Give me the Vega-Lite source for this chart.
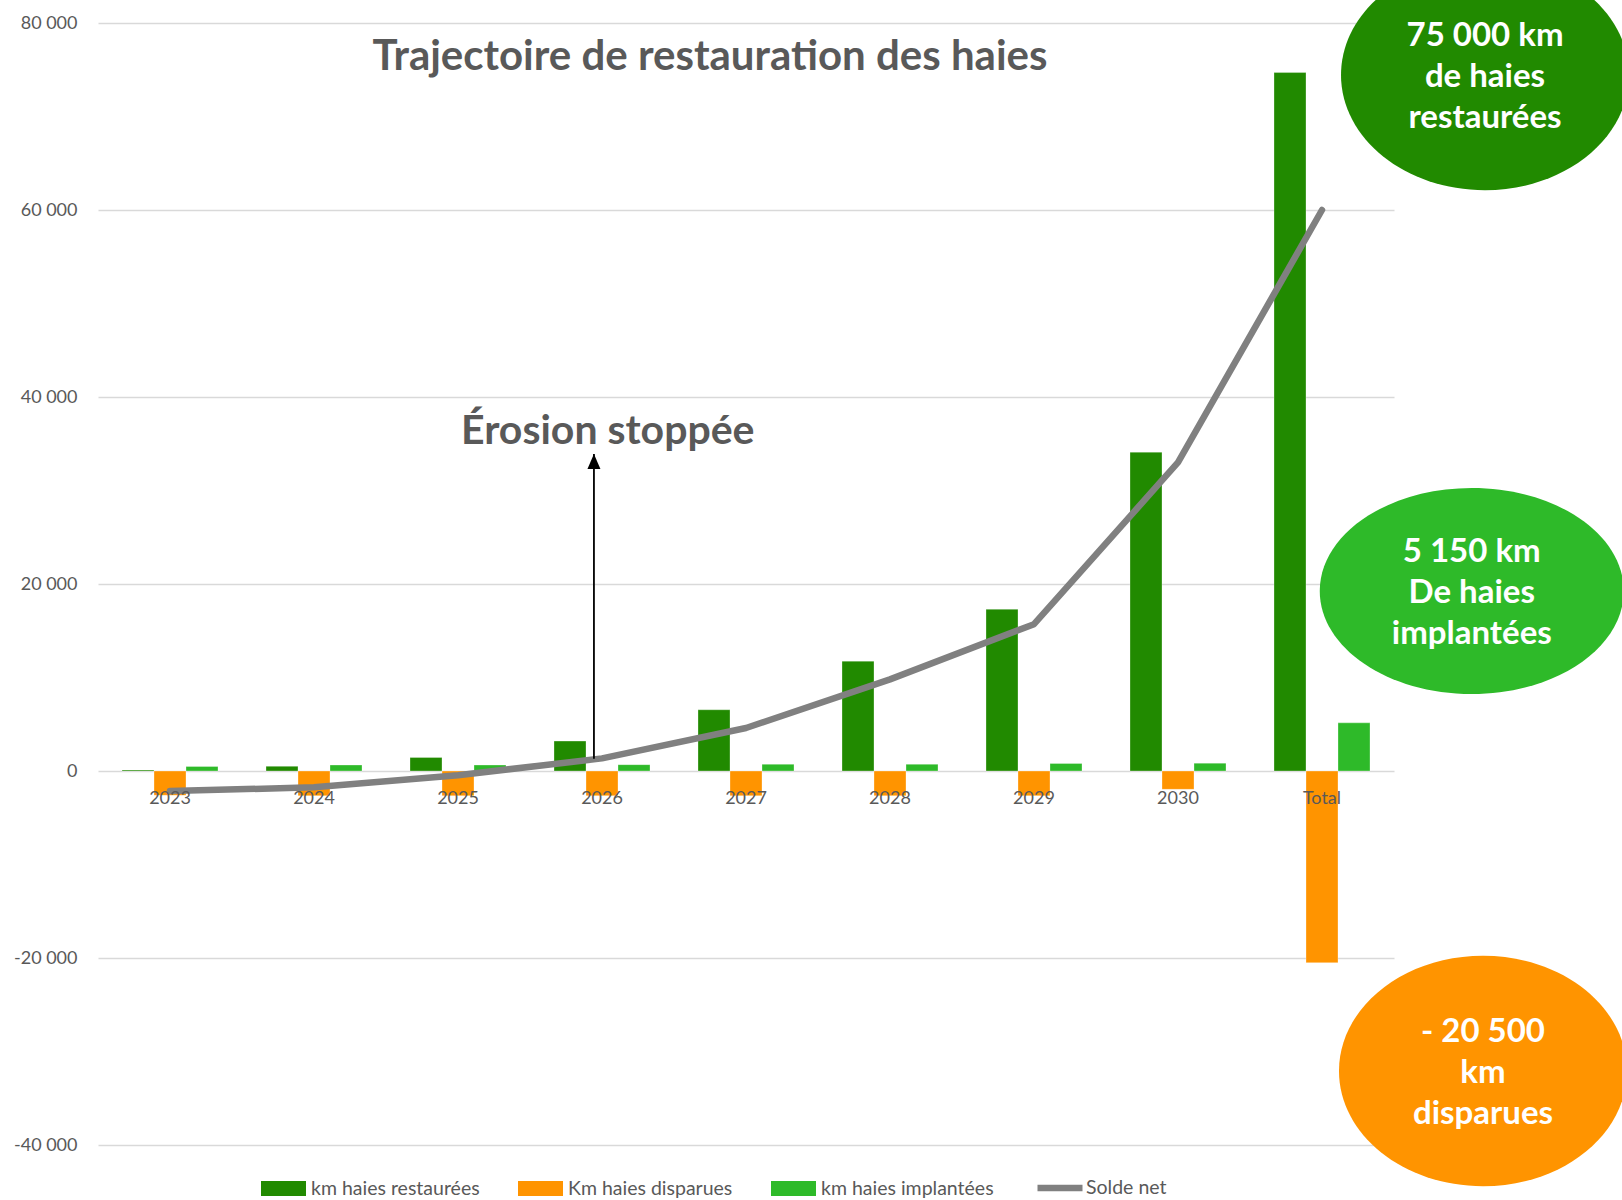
{
  "$schema": "https://vega.github.io/schema/vega-lite/v6.json",
  "width": 1296,
  "height": 1122,
  "autosize": {"type": "none"},
  "padding": {"left": 98, "top": 23, "right": 228, "bottom": 55},
  "background": "white",
  "config": {"view": {"stroke": null}, "font": "Lato"},
  "title": {
    "text": "Trajectoire de restauration des haies",
    "font": "Lato",
    "fontSize": 42,
    "fontWeight": "bold",
    "color": "#595959",
    "anchor": "middle",
    "frame": "group",
    "dx": -36,
    "offset": -119
  },
  "datasets": {
    "barres": [
      {"annee": "2023", "serie": "km haies restaurées", "km": 100},
      {"annee": "2023", "serie": "Km haies disparues", "km": -2600},
      {"annee": "2023", "serie": "km haies implantées", "km": 480},
      {"annee": "2024", "serie": "km haies restaurées", "km": 500},
      {"annee": "2024", "serie": "Km haies disparues", "km": -2650},
      {"annee": "2024", "serie": "km haies implantées", "km": 640},
      {"annee": "2025", "serie": "km haies restaurées", "km": 1450},
      {"annee": "2025", "serie": "Km haies disparues", "km": -2650},
      {"annee": "2025", "serie": "km haies implantées", "km": 640},
      {"annee": "2026", "serie": "km haies restaurées", "km": 3200},
      {"annee": "2026", "serie": "Km haies disparues", "km": -2650},
      {"annee": "2026", "serie": "km haies implantées", "km": 680},
      {"annee": "2027", "serie": "km haies restaurées", "km": 6550},
      {"annee": "2027", "serie": "Km haies disparues", "km": -2650},
      {"annee": "2027", "serie": "km haies implantées", "km": 720},
      {"annee": "2028", "serie": "km haies restaurées", "km": 11750},
      {"annee": "2028", "serie": "Km haies disparues", "km": -2650},
      {"annee": "2028", "serie": "km haies implantées", "km": 720},
      {"annee": "2029", "serie": "km haies restaurées", "km": 17300},
      {"annee": "2029", "serie": "Km haies disparues", "km": -2650},
      {"annee": "2029", "serie": "km haies implantées", "km": 800},
      {"annee": "2030", "serie": "km haies restaurées", "km": 34100},
      {"annee": "2030", "serie": "Km haies disparues", "km": -1960},
      {"annee": "2030", "serie": "km haies implantées", "km": 840},
      {"annee": "Total", "serie": "km haies restaurées", "km": 74700},
      {"annee": "Total", "serie": "Km haies disparues", "km": -20500},
      {"annee": "Total", "serie": "km haies implantées", "km": 5150}
    ],
    "solde": [
      {"annee": "2023", "serie": "Solde net", "km": -2150},
      {"annee": "2024", "serie": "Solde net", "km": -1750},
      {"annee": "2025", "serie": "Solde net", "km": -450},
      {"annee": "2026", "serie": "Solde net", "km": 1350},
      {"annee": "2027", "serie": "Solde net", "km": 4600},
      {"annee": "2028", "serie": "Solde net", "km": 9800},
      {"annee": "2029", "serie": "Solde net", "km": 15700},
      {"annee": "2030", "serie": "Solde net", "km": 33000},
      {"annee": "Total", "serie": "Solde net", "km": 60000}
    ],
    "bulles": [
      {"cle": "restaurees", "serie": "km haies restaurées", "ax": 9.632, "ay": 74440, "texte": "75 000 km\nde haies\nrestaurées"},
      {"cle": "implantees", "serie": "km haies implantées", "ax": 9.54, "ay": 19250, "texte": "5 150 km\nDe haies\nimplantées"},
      {"cle": "disparues", "serie": "Km haies disparues", "ax": 9.618, "ay": -32085, "texte": "- 20 500\nkm\ndisparues"}
    ],
    "fleche": [
      {"ax": 3.444, "ay": 1300, "ay2": 33900, "texte": "Érosion stoppée", "ty": 36300, "tx": 3.54}
    ]
  },
  "layer": [
    {
      "layer": [
        {
          "data": {"name": "barres"},
          "mark": {"type": "bar", "stroke": "white", "strokeWidth": 0.6, "strokeOpacity": 0.5},
          "encoding": {
            "x": {
              "field": "annee", "type": "nominal",
              "sort": ["2023", "2024", "2025", "2026", "2027", "2028", "2029", "2030", "Total"],
              "scale": {"paddingInner": 0.33333, "paddingOuter": 0.16667},
              "axis": {
                "orient": "bottom", "offset": -374, "domain": false, "ticks": false, "grid": false,
                "labelPadding": 18, "labelAngle": 0, "labelFont": "Lato", "labelFontSize": 18,
                "labelColor": "#595959", "title": null, "zindex": 1
              }
            },
            "xOffset": {
              "field": "serie", "type": "nominal",
              "sort": ["km haies restaurées", "Km haies disparues", "km haies implantées"],
              "scale": {"paddingInner": 0, "paddingOuter": 0}
            },
            "y": {
              "field": "km", "type": "quantitative", "title": null,
              "scale": {"domain": [-40000, 80000], "nice": false, "zero": false},
              "axis": {
                "values": [-40000, -20000, 0, 20000, 40000, 60000, 80000],
                "labelExpr": "replace(replace(format(datum.value, ','), ',', ' '), '\u2212', '-')",
                "grid": true, "gridColor": "#d9d9d9", "gridWidth": 1.3,
                "domain": false, "ticks": false, "labelPadding": 21,
                "labelFont": "Lato", "labelFontSize": 18, "labelColor": "#595959", "title": null
              }
            },
            "fill": {
              "field": "serie", "type": "nominal",
              "scale": {
                "domain": ["km haies restaurées", "Km haies disparues", "km haies implantées"],
                "range": ["#218A00", "#FF9400", "#2EBA29"]
              },
              "legend": {
                "orient": "none", "legendX": 163, "legendY": 1143, "direction": "horizontal",
                "title": null, "padding": 0,
                "labelFont": "Lato", "labelFontSize": 19.5, "labelColor": "#595959",
                "labelLimit": 400, "labelOffset": 5, "columnPadding": 38,
                "symbolSize": 2025, "symbolType": "M-1,-0.333H1V0.333H-1Z", "symbolStrokeWidth": 0,
                "symbolOpacity": 1
              }
            }
          }
        },
        {
          "data": {"name": "solde"},
          "mark": {"type": "line", "strokeWidth": 6.5, "strokeCap": "round", "strokeJoin": "round"},
          "encoding": {
            "x": {"field": "annee", "type": "nominal", "sort": ["2023", "2024", "2025", "2026", "2027", "2028", "2029", "2030", "Total"]},
            "y": {"field": "km", "type": "quantitative", "title": null},
            "stroke": {
              "field": "serie", "type": "nominal",
              "scale": {"domain": ["Solde net"], "range": ["#808080"]},
              "legend": {
                "orient": "none", "legendX": 936, "legendY": 1139, "direction": "horizontal",
                "title": null, "padding": 0,
                "labelFont": "Lato", "labelFontSize": 19.5, "labelColor": "#595959",
                "labelLimit": 400, "labelOffset": 0,
                "symbolSize": 2025, "symbolType": "stroke", "symbolStrokeWidth": 6.5,
                "symbolOpacity": 1
              }
            }
          }
        }
      ]
    },
    {
      "layer": [
        {
          "data": {"name": "fleche"},
          "mark": {"type": "rule", "color": "#000000", "strokeWidth": 1.8, "clip": false},
          "encoding": {
            "x": {"field": "ax", "type": "quantitative", "scale": {"domain": [0, 9], "nice": false, "zero": false}, "axis": null},
            "y": {"field": "ay", "type": "quantitative", "title": null},
            "y2": {"field": "ay2"}
          }
        },
        {
          "data": {"name": "fleche"},
          "mark": {"type": "point", "shape": "M0,0L0.65,1.5L-0.65,1.5Z", "size": 400, "filled": true, "color": "#000000", "opacity": 1, "strokeWidth": 0, "clip": false},
          "encoding": {
            "x": {"field": "ax", "type": "quantitative"},
            "y": {"field": "ay2", "type": "quantitative", "title": null}
          }
        },
        {
          "data": {"name": "fleche"},
          "mark": {"type": "text", "font": "Lato", "fontSize": 41, "fontWeight": "bold", "color": "#595959", "align": "center", "baseline": "middle", "clip": false},
          "encoding": {
            "x": {"field": "tx", "type": "quantitative"},
            "y": {"field": "ty", "type": "quantitative", "title": null},
            "text": {"field": "texte"}
          }
        },
        {
          "data": {"name": "bulles"},
          "transform": [{"filter": "datum.cle !== 'implantees'"}],
          "mark": {"type": "point", "shape": "M-1,0A1,0.8 0 1,1 1,0A1,0.8 0 1,1 -1,0Z", "size": 82944, "filled": true, "opacity": 1, "strokeWidth": 0, "clip": false},
          "encoding": {
            "x": {"field": "ax", "type": "quantitative"},
            "y": {"field": "ay", "type": "quantitative", "title": null},
            "fill": {"field": "serie", "type": "nominal"}
          }
        },
        {
          "data": {"name": "bulles"},
          "transform": [{"filter": "datum.cle === 'implantees'"}],
          "mark": {"type": "point", "shape": "M-1,0A1,0.678 0 1,1 1,0A1,0.678 0 1,1 -1,0Z", "size": 92416, "filled": true, "opacity": 1, "strokeWidth": 0, "clip": false},
          "encoding": {
            "x": {"field": "ax", "type": "quantitative"},
            "y": {"field": "ay", "type": "quantitative", "title": null},
            "fill": {"field": "serie", "type": "nominal"}
          }
        },
        {
          "data": {"name": "bulles"},
          "mark": {"type": "text", "font": "Lato", "fontSize": 33, "fontWeight": "bold", "color": "#FFFFFF", "align": "center", "baseline": "middle", "lineBreak": "\n", "lineHeight": 41, "dy": -39, "clip": false},
          "encoding": {
            "x": {"field": "ax", "type": "quantitative"},
            "y": {"field": "ay", "type": "quantitative", "title": null},
            "text": {"field": "texte"}
          }
        }
      ]
    }
  ],
  "resolve": {"scale": {"x": "independent"}}
}
